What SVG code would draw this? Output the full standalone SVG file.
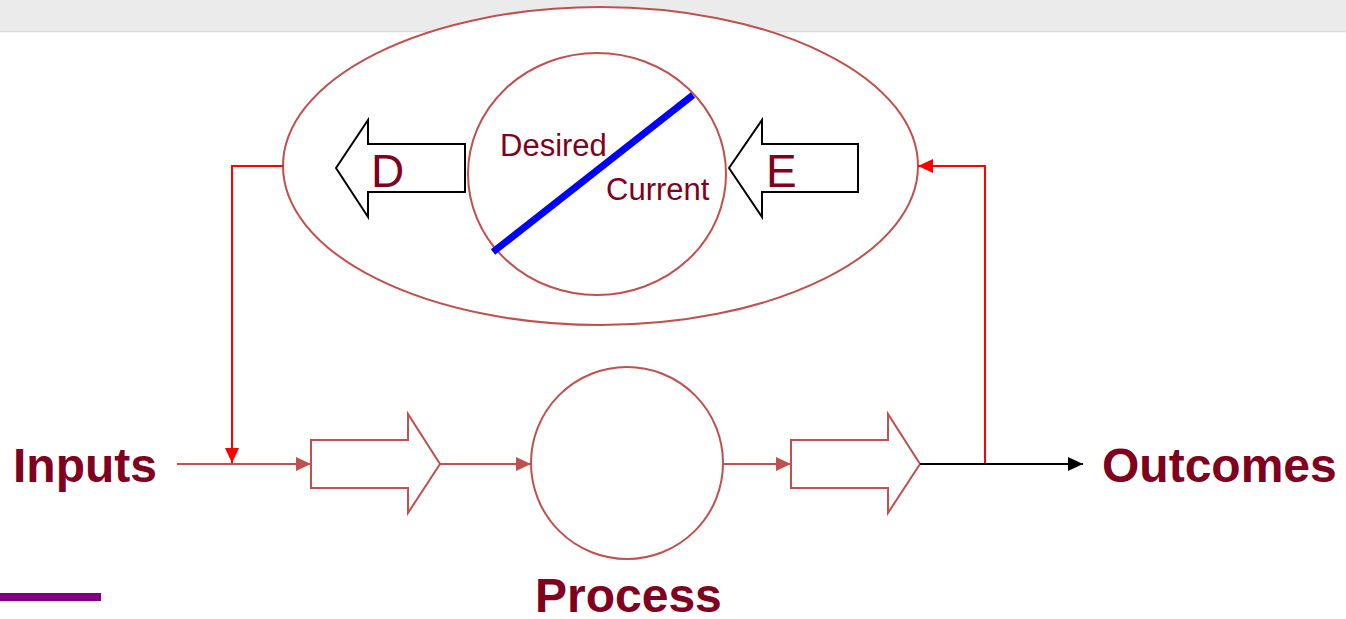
<svg xmlns="http://www.w3.org/2000/svg" width="1346" height="619" viewBox="0 0 1346 619">
<defs>
<style>
.shape{fill:#fff;stroke:#c0504d;stroke-width:2}
.blk{fill:#fff;stroke:#000;stroke-width:2}
.lbl{font-family:"Liberation Sans",Arial,sans-serif;fill:#800020}
.big{font-size:48px;font-weight:bold}
.mid{font-size:31px}
.let{font-size:46px}
.ln{fill:none;stroke:#c0504d;stroke-width:2}
.red{fill:none;stroke:#ff0000;stroke-width:2}
</style>
<marker id="mBr" viewBox="0 0 15 14" refX="15" refY="7" markerWidth="15" markerHeight="14" markerUnits="userSpaceOnUse" orient="auto"><path d="M0,0L15,7L0,14z" fill="#c0504d"/></marker>
<marker id="mR" viewBox="0 0 15 14" refX="15" refY="7" markerWidth="15" markerHeight="14" markerUnits="userSpaceOnUse" orient="auto"><path d="M0,0L15,7L0,14z" fill="#ff0000"/></marker>
<marker id="mK" viewBox="0 0 15 14" refX="15" refY="7" markerWidth="15" markerHeight="14" markerUnits="userSpaceOnUse" orient="auto"><path d="M0,0L15,7L0,14z" fill="#000"/></marker>
</defs>
<rect x="0" y="0" width="1346" height="619" fill="#fff"/>
<rect x="0" y="0" width="1346" height="31" fill="#ebebeb"/>
<line x1="0" y1="31.5" x2="1346" y2="31.5" stroke="#dcdcdc" stroke-width="1.5"/>
<rect x="0" y="593" width="101" height="8" fill="#800080"/>

<g id="gap-ellipse">
<ellipse cx="600.5" cy="166" rx="317.5" ry="159" class="shape" stroke-width="1.5" fill="none"/>
</g>
<g id="state-circle">
<ellipse cx="597" cy="174" rx="129" ry="121" class="shape" stroke-width="1.5"/>
<line x1="493" y1="252" x2="693" y2="95" stroke="#0000ff" stroke-width="7"/>
<text x="500" y="156" class="lbl mid">Desired</text>
<text x="606" y="200" class="lbl mid">Current</text>
</g>
<g id="arrow-d">
<polygon points="336,168 368,120 368,144 465,144 465,192 368,192 368,217" class="blk"/>
<text x="371" y="187" class="lbl let">D</text>
</g>
<g id="arrow-e">
<polygon points="729,168 762,120 762,144 858,144 858,192 762,192 762,217" class="blk"/>
<text x="766" y="187" class="lbl let">E</text>
</g>
<g id="inputs"><text x="13" y="482" class="lbl big">Inputs</text></g>
<g id="arrow-in">
<polygon points="311,440 408,440 408,414 440,464 408,513 408,488 311,488" class="shape"/>
</g>
<g id="process">
<circle cx="627" cy="463" r="96" class="shape"/>
<text x="535" y="612" class="lbl big">Process</text>
</g>
<g id="arrow-out">
<polygon points="791,440 888,440 888,414 920,464 888,513 888,488 791,488" class="shape"/>
</g>
<g id="outcomes"><text x="1102" y="482" class="lbl big">Outcomes</text></g>

<g id="connectors">
<line x1="177" y1="464" x2="311" y2="464" class="ln" marker-end="url(#mBr)"/>
<line x1="440" y1="464" x2="531" y2="464" class="ln" marker-end="url(#mBr)"/>
<line x1="723" y1="464" x2="791" y2="464" class="ln" marker-end="url(#mBr)"/>
<line x1="920" y1="464" x2="1083" y2="464" stroke="#000" stroke-width="2" marker-end="url(#mK)"/>
<polyline points="283,166 232,166 232,463" class="red" marker-end="url(#mR)"/>
<polyline points="985,463 985,166 918,166" class="red" marker-end="url(#mR)"/>
</g>
</svg>
